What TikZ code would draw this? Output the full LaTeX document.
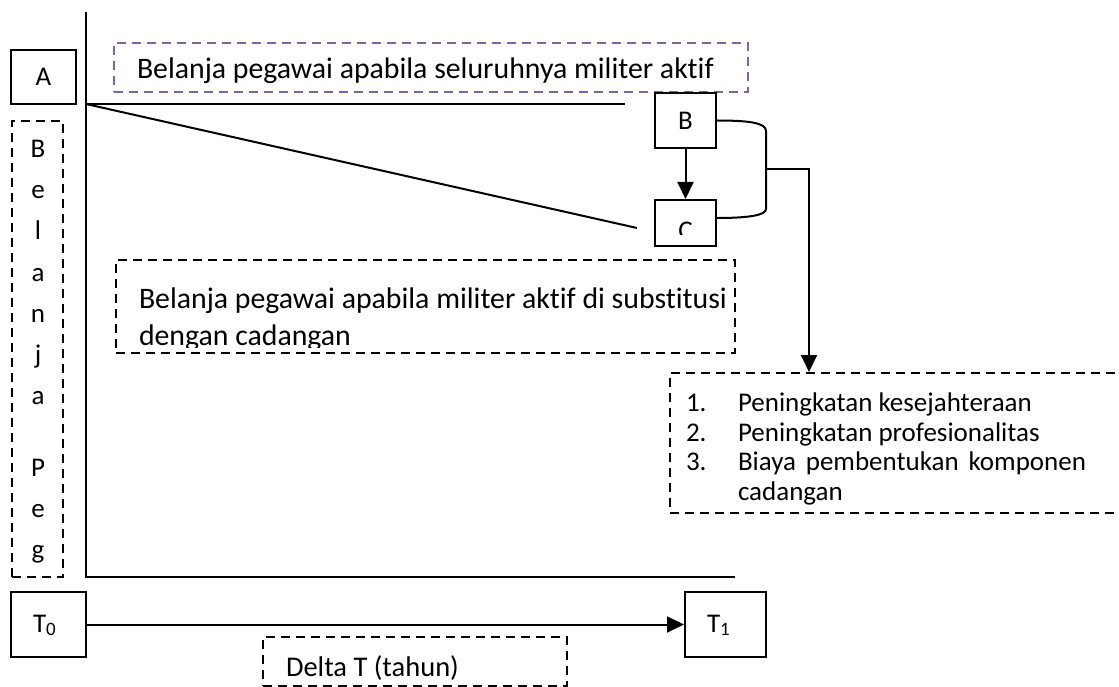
\documentclass[tikz,border=0pt]{standalone}
\usepackage{fontspec}
\setmainfont{Carlito}[Ligatures={NoCommon}]
\usetikzlibrary{arrows.meta}
\definecolor{purp}{RGB}{128,100,162}
\begin{document}
\begin{tikzpicture}[x=1pt,y=-1pt, line width=2pt,
  font=\fontsize{27}{30}\selectfont,
  box/.style={draw, inner sep=0pt},
  dbox/.style={draw, dash pattern=on 9pt off 6pt, inner sep=0pt},
  txt/.style={inner sep=0pt, anchor=base west},
  big/.style={font=\fontsize{28.5}{30}\selectfont},
  huge/.style={font=\fontsize{29.8}{30}\selectfont},
  ctr/.style={inner sep=0pt, anchor=base},
  arr/.style={-{Triangle[length=17pt,width=16pt]}}]
\useasboundingbox (0,0) rectangle (1119,687);

% axes
\coordinate (Ytop) at (86,12);
\coordinate (O) at (86,577);
\coordinate (Xend) at (735,577);
\coordinate (Ltop) at (86,104);
\coordinate (Hend) at (625,104);
\coordinate (Dend) at (637,228);
\draw (Ytop) -- (O) -- (Xend);
\draw (Ltop) -- (Hend);
\draw (Ltop) -- (Dend);

% A box
\node[box, minimum width=65pt, minimum height=54pt] (A) at (43.5,77) {A};

% vertical dashed box with letters
\node[dbox, minimum width=51pt, minimum height=456pt] (peg) at (37.5,349) {};
\foreach \ch/\yy [count=\i] in {B/158, e/199, l/240, a/281, n/322, j/363, a/404, P/476, e/517, g/558}
  \node[ctr] (L\i) at (38,\yy) {\ch};

% purple box
\node[dbox, draw=purp, minimum width=634pt, minimum height=49pt] (pbox) at (431,67.5) {};
\begin{scope}
\clip (100,50) rectangle (760,85);
\node[txt, huge] (ptxt) at (136,79) {Belanja pegawai apabila seluruhnya militer aktif};
\end{scope}

% B and C
\node[box, minimum width=61pt, minimum height=55pt] (B) at (685.5,120.5) {B};
\node[box, minimum width=61pt, minimum height=46pt] (C) at (685.5,223) {};
\begin{scope}
\clip (660,205) rectangle (712,235);
\node[ctr] (Ctxt) at (685.5,240) {C};
\end{scope}
\draw[arr] (B) -- (C);

% bracket
\coordinate (Btop) at ([yshift=0pt]B.east);
\coordinate (Cbot) at ([yshift=5pt]C.east);
\coordinate (J) at (766,169);
\coordinate (K) at (809,169);
\draw (Btop) .. controls (750,120.5) and (766,123) .. (766,131) -- (766,209)
      .. controls (766,215) and (750,218) .. (Cbot);

% middle box
\node[dbox, minimum width=619pt, minimum height=93pt] (mbox) at (425.5,306.5) {};
\begin{scope}
\clip (120,262) rectangle (730,347);
\node[txt, huge] (m1) at (138,308) {Belanja pegawai apabila militer aktif di substitusi};
\node[txt, huge] (m2) at (138,345) {dengan cadangan};
\end{scope}

% list box
\node[dbox, minimum width=460pt, minimum height=140pt] (list) at (900,443) {};
\draw[arr] (J) -- (K) -- (K |- list.north);
\node[txt] (n1) at (685,411) {1.};
\node[txt] (n2) at (685,441) {2.};
\node[txt] (n3) at (685,470) {3.};
\node[txt] (i1) at (737,411) {Peningkatan kesejahteraan};
\node[txt] (i2) at (737,441) {Peningkatan profesionalitas};
\node[txt] (i3) at (737,470) {\hbox to 348pt{Biaya\hfill pembentukan\hfill komponen}};
\node[txt] (i4) at (737,500) {cadangan};

% T0, T1
\node[box, minimum width=75pt, minimum height=65pt] (T0) at (48.5,624.5) {};
\node[box, minimum width=81pt, minimum height=65pt] (T1) at (725.5,624.5) {};
\node[txt] (t0) at (32,632) {T\textsubscript{0}};
\node[txt] (t1) at (706,632) {T\textsubscript{1}};
\draw[arr] (T0) -- (T1);

% Delta T
\node[dbox, minimum width=304pt, minimum height=49pt] (dbox) at (415,661.5) {};
\node[txt, big] (dtxt) at (285,676) {Delta T (tahun)};
\end{tikzpicture}
\end{document}
